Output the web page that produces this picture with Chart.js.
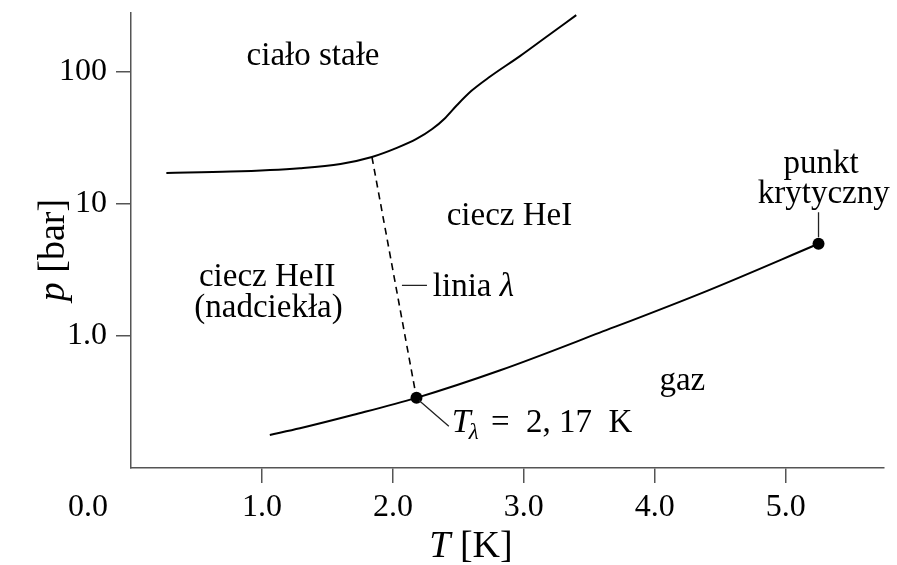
<!DOCTYPE html>
<html>
<head>
<meta charset="utf-8">
<script src="https://cdn.jsdelivr.net/npm/chart.js@4.4.1/dist/chart.umd.min.js"></script>
<style>
  html, body { margin: 0; padding: 0; background: #fff; }
</style>
</head>
<body>
<canvas id="phaseChart" width="897" height="565"></canvas>
<script>
// melting curve (solid / liquid)
const meltT = [0.27, 0.76, 1.29, 1.6, 1.84, 2.03, 2.18, 2.3, 2.4, 2.49, 2.6, 2.74, 2.97, 3.16, 3.4];
const meltP = [17.2, 17.6, 18.7, 20.1, 22.7, 26.6, 31.1, 37, 44.9, 56.2, 72, 92, 132, 181, 270];

// lambda line (dashed)
const lambdaT = [1.84, 2.18];
const lambdaP = [22.7, 0.34];

// vapour curve up to the critical point
const vapT = [1.06, 1.29, 1.7, 2.18, 2.82, 3.58, 4.4, 5.25];
const vapP = [0.178, 0.2, 0.253, 0.34, 0.55, 1.06, 2.2, 5.0];

// marked points: lambda point, critical point
const dotT = [2.18, 5.25];
const dotP = [0.34, 5.0];

const xTicks = [1, 2, 3, 4, 5];
const xTickLabels = ["1.0", "2.0", "3.0", "4.0", "5.0"];
const yTicks = [1, 10, 100];
const yTickLabels = ["1.0", "10", "100"];

const serif = "'Liberation Serif', 'DejaVu Serif', serif";
const axisGray = "#555";

function toPoints(xs, ys) {
    return xs.map((x, i) => ({ x: x, y: ys[i] }));
}

// region labels, positioned in data units (T, p)
const regionLabels = [
    { text: "ciało stałe", T: 1.39, p: 131 },
    { text: "ciecz HeI", T: 2.89, p: 8.1 },
    { text: "ciecz HeII", T: 1.04, p: 2.78 },
    { text: "(nadciekła)", T: 1.05, p: 1.62 },
    { text: "gaz", T: 4.21, p: 0.45 },
    { text: "punkt", T: 5.27, p: 20 },
    { text: "krytyczny", T: 5.29, p: 11.9 },
];

const annotations = {
    id: "annotations",
    afterDraw(chart) {
        const c = chart.ctx;
        const xs = chart.scales.x;
        const ys = chart.scales.y;
        const px = (v) => xs.getPixelForValue(v);
        const py = (v) => ys.getPixelForValue(v);
        c.save();
        c.fillStyle = "#000";
        c.textBaseline = "middle";
        c.textAlign = "center";
        c.font = "33px " + serif;
        regionLabels.forEach((l) => c.fillText(l.text, px(l.T), py(l.p)));

        // leader lines
        c.strokeStyle = "#222";
        c.lineWidth = 1.3;
        c.beginPath();
        c.moveTo(px(2.069), py(2.42));
        c.lineTo(px(2.26), py(2.42));
        c.moveTo(px(2.2), py(0.325));
        c.lineTo(px(2.427), py(0.207));
        c.moveTo(px(5.25), py(5.6));
        c.lineTo(px(5.25), py(8.65));
        c.stroke();

        // "linia λ"
        c.textAlign = "left";
        let x = px(2.305);
        let y = py(2.42) + 2;
        c.font = "33px " + serif;
        c.fillText("linia ", x, y);
        x += c.measureText("linia ").width;
        c.font = "italic 33px " + serif;
        c.fillText("λ", x, y);

        // "Tλ = 2, 17 K"
        c.textBaseline = "alphabetic";
        x = px(2.45);
        y = py(0.186);
        c.font = "italic 34px " + serif;
        c.fillText("T", x, y);
        x += c.measureText("T").width - 2;
        c.font = "italic 23px " + serif;
        c.fillText("λ", x, y + 7);
        x += c.measureText("λ").width + 4;
        c.font = "33px " + serif;
        c.fillText(" =  2, 17  K", x, y);

        // the stray "0.0" label left of the origin
        c.textAlign = "center";
        c.textBaseline = "middle";
        c.font = "32px " + serif;
        c.fillText("0.0", px(0) - 43, 508);

        // axis titles
        c.textBaseline = "alphabetic";
        c.font = "italic 38px " + serif;
        const tW = c.measureText("T ").width;
        c.font = "38px " + serif;
        const kW = c.measureText("[K]").width;
        let sx = 471 - (tW + kW) / 2;
        c.textAlign = "left";
        c.font = "italic 38px " + serif;
        c.fillText("T", sx, 557);
        c.font = "38px " + serif;
        c.fillText("[K]", sx + tW, 557);

        c.translate(64, 250);
        c.rotate(-Math.PI / 2);
        c.font = "italic 38px " + serif;
        const pW = c.measureText("p ").width;
        c.font = "38px " + serif;
        const bW = c.measureText("[bar]").width;
        sx = -(pW + bW) / 2;
        c.font = "italic 38px " + serif;
        c.fillText("p", sx, 0);
        c.font = "38px " + serif;
        c.fillText("[bar]", sx + pW, 0);
        c.restore();
    },
};

const ctx = document.getElementById("phaseChart").getContext("2d");

new Chart(ctx, {
    type: "scatter",
    data: {
        datasets: [
            {
                data: toPoints(meltT, meltP),
                showLine: true,
                borderColor: "#000",
                borderWidth: 2,
                pointRadius: 0,
                cubicInterpolationMode: "monotone",
            },
            {
                data: toPoints(lambdaT, lambdaP),
                showLine: true,
                borderColor: "#000",
                borderWidth: 1.6,
                borderDash: [7, 5],
                pointRadius: 0,
            },
            {
                data: toPoints(vapT, vapP),
                showLine: true,
                borderColor: "#000",
                borderWidth: 2,
                pointRadius: 0,
                cubicInterpolationMode: "monotone",
            },
            {
                data: toPoints(dotT, dotP),
                showLine: false,
                pointRadius: 6,
                pointBackgroundColor: "#000",
                pointBorderWidth: 0,
            },
        ],
    },
    options: {
        responsive: false,
        animation: false,
        layout: { padding: { top: 13, right: 13, left: 0, bottom: 0 } },
        plugins: {
            legend: { display: false },
            tooltip: { enabled: false },
        },
        scales: {
            x: {
                type: "linear",
                min: 0,
                max: 5.75,
                afterBuildTicks: (s) => { s.ticks = xTicks.map((v) => ({ value: v })); },
                afterFit: (s) => { s.height = 97; s.paddingLeft = 0; s.paddingRight = 0; },
                grid: { drawOnChartArea: false, tickLength: 15, color: axisGray, lineWidth: 1.5 },
                border: { color: axisGray, width: 1.5 },
                ticks: {
                    callback: (v, i) => xTickLabels[i],
                    font: { family: serif, size: 32 },
                    color: "#000",
                    padding: 5,
                    maxRotation: 0,
                    autoSkip: false,
                },
            },
            y: {
                type: "logarithmic",
                min: 0.1,
                max: 280,
                afterBuildTicks: (s) => { s.ticks = yTicks.map((v) => ({ value: v })); },
                afterFit: (s) => { s.width = 131; s.paddingTop = 0; s.paddingBottom = 0; },
                grid: { drawOnChartArea: false, tickLength: 15, color: axisGray, lineWidth: 1.5 },
                border: { color: axisGray, width: 1.5 },
                ticks: {
                    callback: (v, i) => yTickLabels[i],
                    font: { family: serif, size: 32 },
                    color: "#000",
                    padding: 9,
                    autoSkip: false,
                },
            },
        },
    },
    plugins: [annotations],
});
</script>
</body>
</html>
